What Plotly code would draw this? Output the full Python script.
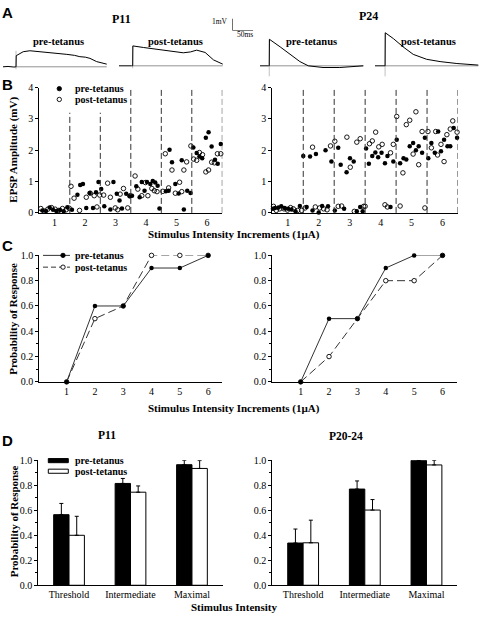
import plotly.graph_objects as go

W, H = 480, 620

# ======================= DATA =======================
# Panel A: representative EPSP traces (time in ms, amplitude in mV re: baseline)
a_p11_pre_t = [0, 12, 26, 31, 31.5, 48, 64, 90, 112, 132, 152, 170, 183, 196, 207, 223, 235, 247]
a_p11_pre_v = [0, 0.03, -0.02, 0, 0.92, 1.25, 1.33, 1.26, 1.17, 1.10, 1.03, 0.95, 0.84, 0.80, 0.70, 0.43, 0.30, 0.22]
a_p11_post_t = [0, 15, 30, 32.6, 33, 58, 90, 121, 153, 170, 185, 205, 225, 247]
a_p11_post_v = [0, -0.03, 0, 0, 1.65, 1.52, 1.36, 1.22, 1.08, 1.15, 1.30, 1.11, 0.49, 0.14]
a_p24_pre_t = [0, 10, 20, 22, 22.5, 48, 71, 95, 115, 150, 190, 221, 246]
a_p24_pre_v = [0, 0.03, 0, 0, 2.2, 1.57, 0.95, 0.35, 0, -0.14, -0.14, -0.06, 0]
a_p24_post_t = [0, 12, 22, 24, 24.5, 44, 67, 91, 123, 155, 195, 246]
a_p24_post_v = [0, 0.03, 0, 0, 2.74, 2.25, 1.57, 0.95, 0.54, 0.35, 0.19, 0.06]
a_artifact_low = [-0.2, -0.2, -0.87, -0.87]   # stimulus artifact depth (mV)
scale_mv = 1
scale_ms = 50

# Panel B: EPSP amplitude (mV) vs stimulus intensity, individual trials
b_bounds = [1.5, 2.5, 3.5, 4.5, 5.5, 6.5]
b_p11_pre_x = [0.6, 0.72, 0.84, 0.95, 1.06, 1.18, 1.3, 1.42,
               1.57, 1.75, 1.84, 1.93, 2.04, 2.15, 2.26, 2.36, 2.44,
               2.53, 2.63, 2.83, 2.93, 3.04, 3.13, 3.21, 3.35, 3.46,
               3.54, 3.68, 3.79, 3.86, 3.95, 4.03, 4.14, 4.22, 4.3, 4.38, 4.44,
               4.65, 4.74, 4.77, 4.85, 4.96, 5.07, 5.17, 5.24, 5.35, 5.46,
               5.55, 5.66, 5.75, 5.84, 5.96, 6.05, 6.15, 6.26, 6.35, 6.45]
b_p11_pre_y = [0.08, 0.06, 0.17, 0.1, 0.06, 0.09, 0.05, 0.18,
               0.1, 0.58, 0.89, 0.92, 0.16, 0.64, 0.16, 0.66, 0.99,
               0.76, 0.21, 0.11, 0.99, 0.61, 0.4, 0.14, 0.61, 0.53,
               0.55, 0.85, 0.5, 0.99, 0.71, 0.99, 0.92, 1.02, 0.97, 0.87, 0.14,
               0.69, 0.71, 2.02, 1.62, 0.92, 0.62, 1.68, 0.11, 0.71, 0.64,
               2.09, 1.91, 1.8, 1.75, 2.4, 2.58, 2.12, 1.7, 1.57, 2.2]
b_p11_post_x = [0.55, 0.66, 0.78, 0.9, 1.02, 1.14, 1.26, 1.38, 1.48,
                1.54, 1.64, 1.82, 2.04, 2.17, 2.3, 2.39, 2.48,
                2.61, 2.74, 2.83, 2.99, 3.07, 3.15, 3.26, 3.4, 3.48,
                3.64, 3.73, 3.86, 3.98, 4.06, 4.19, 4.27, 4.36,
                4.55, 4.63, 4.74, 4.85, 4.96, 5.1, 5.17, 5.24, 5.33,
                5.47, 5.56, 5.66, 5.75, 5.85, 5.96, 6.05, 6.15, 6.24, 6.34, 6.45]
b_p11_post_y = [0.14, 0.06, 0.12, 0.17, 0.12, 0.08, 0.14, 0.1, 0.15,
                0.85, 0.47, 0.08, 0.5, 0.63, 0.55, 0.19, 0.57,
                0.57, 0.95, 0.5, 0.16, 0.1, 0.6, 0.78, 0.16, 0.55,
                1.18, 0.76, 0.55, 0.97, 0.55, 0.78, 0.71, 0.68,
                0.69, 1.89, 0.8, 1.37, 0.63, 0.98, 0.68, 1.37, 1.63,
                2.14, 1.72, 1.68, 1.93, 1.86, 1.31, 1.37, 1.62, 1.6, 1.89, 1.89]
b_p24_pre_x = [0.52, 0.59, 0.7, 0.79, 0.9, 1.01, 1.12, 1.25, 1.39,
               1.5, 1.61, 1.72, 1.8, 1.91, 2.0, 2.11, 2.22, 2.3, 2.41,
               2.52, 2.63, 2.71, 2.82, 2.9, 3.01, 3.13, 3.23, 3.34, 3.42,
               3.53, 3.62, 3.73, 3.83, 3.92, 4.03, 4.14, 4.22, 4.32, 4.41,
               4.52, 4.63, 4.74, 4.83, 4.94, 5.05, 5.14, 5.23, 5.34, 5.43,
               5.54, 5.64, 5.75, 5.86, 5.95, 6.05, 6.16, 6.25, 6.36, 6.47]
b_p24_pre_y = [0.13, 0.16, 0.17, 0.21, 0.16, 0.13, 0.11, 0.05, 0.22,
               1.82, 0.19, 1.8, 0.08, 1.88, 0.01, 0.22, 2.0, 0.21, 1.64,
               0.08, 2.08, 1.54, 0.13, 1.3, 1.75, 1.64, 0.05, 0.19, 0.05,
               2.06, 1.57, 1.82, 1.93, 1.78, 1.92, 1.59, 1.82, 0.19, 1.64,
               2.34, 1.59, 1.75, 1.71, 2.13, 2.23, 2.0, 2.13, 1.92, 2.4,
               1.75, 2.23, 1.92, 2.6, 1.97, 2.34, 2.13, 2.13, 2.71, 2.4]
b_p24_post_x = [0.54, 0.63, 0.74, 0.88, 0.99, 1.09, 1.18, 1.32,
                1.45, 1.56, 1.8, 1.89, 2.03, 2.16, 2.27, 2.38,
                2.52, 2.63, 2.74, 2.91, 3.02, 3.15, 3.23, 3.34, 3.45, 3.5,
                3.64, 3.73, 3.84, 3.94, 4.05, 4.14, 4.22, 4.32, 4.41,
                4.52, 4.63, 4.72, 4.83, 4.94, 5.05, 5.14, 5.23, 5.34, 5.43,
                5.53, 5.64, 5.78, 5.84, 5.95, 6.05, 6.14, 6.25, 6.33, 6.47]
b_p24_post_y = [0.21, 0.08, 0.13, 0.13, 0.09, 0.17, 0.13, 0.08,
                0.08, 0.16, 2.1, 0.19, 0.16, 0.13, 0.1, 2.14,
                2.29, 0.21, 0.22, 2.42, 1.46, 0.05, 2.26, 2.37, 0.21, 0.21,
                2.21, 2.3, 2.58, 2.11, 2.19, 0.26, 0.19, 1.92, 2.19,
                3.08, 0.22, 1.28, 2.82, 2.96, 1.88, 3.23, 1.54, 2.6, 0.16,
                2.6, 2.08, 2.6, 1.85, 2.19, 1.64, 2.5, 2.68, 2.94, 2.58]

# Panel C: probability of response per intensity increment
c_x = [1, 2, 3, 4, 5, 6]
c_p11_pre = [0, 0.6, 0.6, 0.9, 0.9, 1.0]
c_p11_post = [0, 0.5, 0.6, 1.0, 1.0, 1.0]
c_p24_pre = [0, 0.5, 0.5, 0.9, 1.0, 1.0]
c_p24_post = [0, 0.2, 0.5, 0.8, 0.8, 1.0]

# Panel D: mean probability of response (+SEM)
d_cats = ["Threshold", "Intermediate", "Maximal"]
d_p11_pre = [0.565, 0.815, 0.965]
d_p11_pre_err = [0.09, 0.04, 0.035]
d_p11_post = [0.40, 0.745, 0.935]
d_p11_post_err = [0.152, 0.05, 0.063]
d_p24_pre = [0.338, 0.77, 1.0]
d_p24_pre_err = [0.112, 0.065, 0.0]
d_p24_post = [0.34, 0.602, 0.963]
d_p24_post_err = [0.181, 0.084, 0.037]

# ======================= LAYOUT HELPERS =======================
SERIF = "Times New Roman, Liberation Serif, DejaVu Serif, serif"
SANS = "Arial, Liberation Sans, sans-serif"


def fx(x):
    return x / W


def fy(y):
    return 1 - y / H


def dom_x(a, b):
    return [fx(a), fx(b)]


def dom_y(top, bottom):
    return [fy(bottom), fy(top)]


fig = go.Figure()
layout = {}
shapes = []
annotations = []

# ---------- Panel A ----------
PX_PER_MS = 0.42
PX_PER_MV = 12.3
A_TOP, A_BOT = 20, 76
traces_a = [
    (a_p11_pre_t, a_p11_pre_v, 3, 62, 31),
    (a_p11_post_t, a_p11_post_v, 119, 61, 32.6),
    (a_p24_pre_t, a_p24_pre_v, 260, 61, 22),
    (a_p24_post_t, a_p24_post_v, 375, 61, 24),
]
for i, (t, v, x0, base, step) in enumerate(traces_a, start=1):
    xa = "xaxis" if i == 1 else f"xaxis{i}"
    ya = "yaxis" if i == 1 else f"yaxis{i}"
    xr = "x" if i == 1 else f"x{i}"
    yr = "y" if i == 1 else f"y{i}"
    layout[xa] = dict(domain=dom_x(x0, x0 + 250 * PX_PER_MS), range=[0, 250],
                      visible=False, anchor=yr, fixedrange=True)
    layout[ya] = dict(domain=dom_y(A_TOP, A_BOT),
                      range=[-(A_BOT - base) / PX_PER_MV, (base - A_TOP) / PX_PER_MV],
                      visible=False, anchor=xr, fixedrange=True)
    peak = max(v)
    fig.add_trace(go.Scatter(x=[step, step], y=[a_artifact_low[i - 1], peak], mode="lines",
                             line=dict(color="#b0b0b0", width=0.8), xaxis=xr, yaxis=yr,
                             hoverinfo="skip"))
    fig.add_trace(go.Scatter(x=[step, t[-1]], y=[0, 0], mode="lines",
                             line=dict(color="#777777", width=0.8), xaxis=xr, yaxis=yr,
                             hoverinfo="skip"))
    fig.add_trace(go.Scatter(x=t, y=v, mode="lines", line=dict(color="black", width=1),
                             xaxis=xr, yaxis=yr))

# scale bar
layout["xaxis5"] = dict(domain=dom_x(232.3, 253.3), range=[0, scale_ms], visible=False,
                        anchor="y5", fixedrange=True)
layout["yaxis5"] = dict(domain=dom_y(12.7, 25), range=[0, scale_mv], visible=False,
                        anchor="x5", fixedrange=True)
fig.add_trace(go.Scatter(x=[0, 0, scale_ms], y=[scale_mv, 0, 0], mode="lines",
                         line=dict(color="black", width=1), xaxis="x5", yaxis="y5",
                         cliponaxis=False))

tickfont = dict(family=SERIF, size=10, color="black")


def axis_common(**kw):
    d = dict(showline=True, linecolor="black", linewidth=1, ticks="outside", ticklen=3,
             tickcolor="black", tickwidth=1, showgrid=False, zeroline=False,
             tickfont=tickfont, fixedrange=True)
    d.update(kw)
    return d


# ---------- Panel B ----------
B_TOP, B_BOT = 83.3, 211
b_panels = [
    (6, 39.3, 222.3, b_p11_pre_x, b_p11_pre_y, b_p11_post_x, b_p11_post_y, True),
    (7, 272.3, 458.0, b_p24_pre_x, b_p24_pre_y, b_p24_post_x, b_p24_post_y, False),
]
for n, xl, xrgt, prx, pry, pox, poy, left in b_panels:
    layout[f"xaxis{n}"] = axis_common(domain=dom_x(xl, xrgt), range=[0.5, 6.5],
                                      anchor=f"y{n}", tickvals=c_x, ticks="", ticklen=0)
    layout[f"yaxis{n}"] = axis_common(domain=dom_y(B_TOP, B_BOT), range=[0, 4],
                                      anchor=f"x{n}", tickvals=[0, 1, 2, 3, 4])
    for bx in b_bounds:
        top = 3.2 if (left and bx < 3) else 4
        shapes.append(dict(type="line", xref=f"x{n}", yref=f"y{n}", x0=bx, x1=bx, y0=0, y1=top,
                           line=dict(color="#333333", width=1, dash="6px,3px")))
    fig.add_trace(go.Scatter(x=pox, y=poy, mode="markers", xaxis=f"x{n}", yaxis=f"y{n}",
                             marker=dict(symbol="circle-open", size=4.5, color="black",
                                         line=dict(width=0.9)), cliponaxis=False))
    fig.add_trace(go.Scatter(x=prx, y=pry, mode="markers", xaxis=f"x{n}", yaxis=f"y{n}",
                             marker=dict(symbol="circle", size=4.5, color="black"),
                             cliponaxis=False))

# ---------- Panel C ----------
C_TOP, C_BOT = 254.3, 383.3
c_panels = [
    (8, 39.3, 222.3, c_p11_pre, c_p11_post, 0.035),
    (9, 272.3, 456.7, c_p24_pre, c_p24_post, 0.0),
]
for n, xl, xrgt, pre, post, x0 in c_panels:
    layout[f"xaxis{n}"] = axis_common(domain=dom_x(xl, xrgt), range=[x0, 6.5],
                                      anchor=f"y{n}", tickvals=c_x, ticks="", ticklen=0)
    layout[f"yaxis{n}"] = axis_common(domain=dom_y(C_TOP, C_BOT), range=[0, 1.0],
                                      anchor=f"x{n}", tickvals=[0, 0.2, 0.4, 0.6, 0.8, 1.0],
                                      tickformat=".1f",
                                      minor=dict(dtick=0.1, ticks="outside", ticklen=2,
                                                 tickcolor="black"))
    fig.add_trace(go.Scatter(x=c_x, y=post, mode="lines+markers", xaxis=f"x{n}", yaxis=f"y{n}",
                             line=dict(color="#333333", width=1, dash="8px,4px"),
                             marker=dict(symbol="circle", size=4.5, color="white",
                                         line=dict(color="black", width=0.9)),
                             cliponaxis=False))
    fig.add_trace(go.Scatter(x=c_x, y=pre, mode="lines+markers", xaxis=f"x{n}", yaxis=f"y{n}",
                             line=dict(color="#333333", width=1),
                             marker=dict(symbol="circle", size=4.5, color="black"),
                             cliponaxis=False))

# ---------- Panel D ----------
D_TOP, D_BOT = 463.3, 590.7
d_panels = [
    (10, 38.3, 222.7, d_p11_pre, d_p11_pre_err, d_p11_post, d_p11_post_err),
    (11, 272.3, 457.3, d_p24_pre, d_p24_pre_err, d_p24_post, d_p24_post_err),
]
for n, xl, xrgt, pre, pre_e, post, post_e in d_panels:
    layout[f"xaxis{n}"] = axis_common(domain=dom_x(xl, xrgt), range=[-0.5, 2.5],
                                      anchor=f"y{n}", type="category", ticks="", ticklen=0)
    layout[f"yaxis{n}"] = axis_common(domain=dom_y(D_TOP, D_BOT), range=[0, 1.0],
                                      anchor=f"x{n}", tickvals=[0, 0.2, 0.4, 0.6, 0.8, 1.0],
                                      tickformat=".1f",
                                      minor=dict(dtick=0.1, ticks="outside", ticklen=2,
                                                 tickcolor="black"))
    fig.add_trace(go.Bar(x=d_cats, y=pre, xaxis=f"x{n}", yaxis=f"y{n}",
                         marker=dict(color="black", line=dict(color="black", width=1)),
                         error_y=dict(type="data", symmetric=False, array=pre_e,
                                      arrayminus=[0, 0, 0], thickness=1, width=2,
                                      color="black")))
    fig.add_trace(go.Bar(x=d_cats, y=post, xaxis=f"x{n}", yaxis=f"y{n}",
                         marker=dict(color="white", line=dict(color="black", width=1)),
                         error_y=dict(type="data", symmetric=False, array=post_e,
                                      arrayminus=[0, 0, 0], thickness=1, width=2,
                                      color="black")))

# ---------- Legends (decorations) ----------
def circle(cx, cy, r, filled):
    shapes.append(dict(type="circle", xref="paper", yref="paper",
                       x0=fx(cx - r), x1=fx(cx + r), y0=fy(cy + r), y1=fy(cy - r),
                       fillcolor="black" if filled else "white",
                       line=dict(color="black", width=0.9)))


def hline(x0, x1, y, dash="solid"):
    shapes.append(dict(type="line", xref="paper", yref="paper", x0=fx(x0), x1=fx(x1),
                       y0=fy(y), y1=fy(y), line=dict(color="#333333", width=1, dash=dash)))


def rect(x0, x1, y0, y1, fill):
    shapes.append(dict(type="rect", xref="paper", yref="paper", x0=fx(x0), x1=fx(x1),
                       y0=fy(y1), y1=fy(y0), fillcolor=fill, line=dict(color="black", width=1)))


circle(59.3, 84.3, 2.2, True)
circle(59.3, 95.3, 2.2, False)
hline(43, 70, 254.3)
circle(63, 254.3, 2.2, True)
hline(43, 70, 266.3, dash="5px,3px")
circle(63, 266.3, 2.2, False)
rect(48.3, 68.3, 461.5, 465.7, "black")
rect(48.3, 68.3, 472.3, 476.5, "white")


def ann(text, x, y, size=11, bold=True, family=SERIF, xanchor="center", angle=0):
    annotations.append(dict(text=f"<b>{text}</b>" if bold else text, x=fx(x), y=fy(y),
                            xref="paper", yref="paper", showarrow=False,
                            xanchor=xanchor, yanchor="middle", textangle=angle,
                            font=dict(family=family, size=size, color="black")))


for letter, y in [("A", 7), ("B", 80), ("C", 244.3), ("D", 443.3)]:
    ann(letter, 7, y, size=15, family=SANS)

ann("P11", 121.7, 13.3, size=12)
ann("P24", 368, 9.8, size=12)
ann("pre-tetanus", 58.3, 36, size=10.5)
ann("post-tetanus", 175, 36.5, size=10.5)
ann("pre-tetanus", 311, 36.5, size=10.5)
ann("post-tetanus", 428.3, 36.5, size=10.5)
ann("1mV", 220, 16, size=7.5, bold=False)
ann("50ms", 245, 29.5, size=7.5, bold=False)

ann("pre-tetanus", 72.5, 84.3, size=10, xanchor="left")
ann("post-tetanus", 72.5, 95.3, size=10, xanchor="left")
ann("EPSP Amplitude (mV)", 13.5, 147, size=11, angle=-90)
ann("Stimulus Intensity Increments (1µA)", 233.5, 233, size=11)

ann("pre-tetanus", 72.5, 254.3, size=10, xanchor="left")
ann("post-tetanus", 72.5, 266.3, size=10, xanchor="left")
ann("Probability of Response", 13.5, 319.5, size=11, angle=-90)
ann("Stimulus Intensity Increments (1µA)", 233.5, 410, size=11)

ann("P11", 106.7, 437.7, size=11.5)
ann("P20-24", 346, 438, size=11.5)
ann("pre-tetanus", 72.5, 463.5, size=10, xanchor="left")
ann("post-tetanus", 72.5, 474.5, size=10, xanchor="left")
ann("Probability of Response", 13.5, 526, size=11, angle=-90)
ann("Stimulus Intensity", 233.5, 613, size=11)

fig.update_layout(
    width=W, height=H, margin=dict(l=0, r=0, t=0, b=0),
    paper_bgcolor="white", plot_bgcolor="rgba(0,0,0,0)",
    showlegend=False, barmode="group", bargap=0.5, bargroupgap=0,
    shapes=shapes, annotations=annotations,
    font=dict(family=SERIF, color="black"),
    **layout,
)
fig.write_html("out.html", config={"displayModeBar": False},
               post_script="document.body.style.margin='0';document.body.style.padding='0';")
